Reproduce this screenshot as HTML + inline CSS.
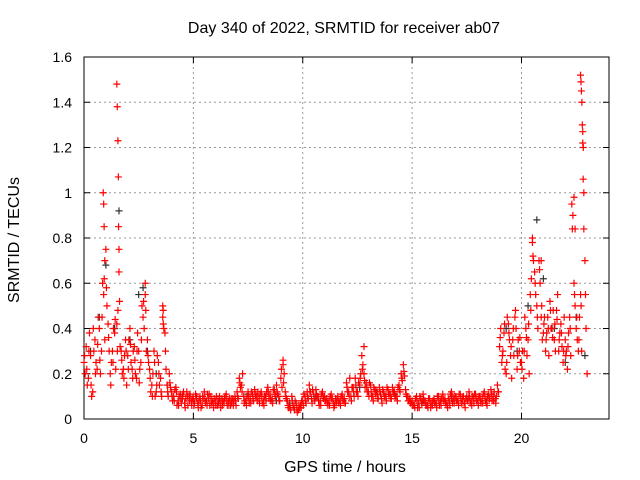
<!DOCTYPE html>
<html><head><meta charset="utf-8"><style>
html,body{margin:0;padding:0;background:#fff;}
svg{display:block;font-family:"Liberation Sans",sans-serif;}
</style></head><body>
<svg id="chart" width="640" height="480" viewBox="0 0 640 480">
<rect width="640" height="480" fill="#fff"/>
<g id="grid"></g>
<g id="axes"></g>
<g id="black"></g>
<g id="red"></g>
<text x="344" y="33" font-size="16" text-anchor="middle">Day 340 of 2022, SRMTID for receiver ab07</text>
<text x="345" y="472" font-size="16" text-anchor="middle">GPS time / hours</text>
<text x="19" y="240" font-size="16" text-anchor="middle" transform="rotate(-90 19 240)">SRMTID / TECUs</text>
</svg>
<script>
const xTicks=[0,5,10,15,20];
const yTicks=[0,0.2,0.4,0.6,0.8,1,1.2,1.4,1.6];
const yTickLabels=["0","0.2","0.4","0.6","0.8","1","1.2","1.4","1.6"];
const redValues=[.25,.32,.18,.28,.12,.35,.22,.40,.30,.55,
.75,.42,.20,.30,.38,.42,.65,.30,.22,.35,
.28,.40,.22,.32,.18,.30,.25,.45,.55,.35,
.22,.15,.30,.12,.25,.18,.45,.38,.15,.20,
.12,.10,.14,.08,.11,.09,.07,.12,.10,.08,
.09,.11,.07,.10,.06,.12,.08,.09,.10,.07,
.08,.06,.10,.09,.07,.11,.08,.06,.09,.10,
.12,.18,.15,.10,.08,.12,.09,.11,.13,.10,
.09,.12,.08,.10,.14,.11,.09,.13,.15,.10,
.18,.24,.12,.08,.06,.10,.05,.07,.04,.06,
.08,.10,.12,.15,.09,.11,.13,.10,.08,.12,
.10,.09,.08,.11,.07,.09,.10,.08,.11,.09,
.16,.12,.10,.14,.18,.12,.15,.28,.20,.16,
.12,.15,.10,.13,.11,.14,.09,.12,.10,.13,
.11,.14,.12,.10,.15,.20,.24,.13,.10,.09,
.08,.06,.10,.07,.09,.11,.08,.06,.09,.07,
.09,.07,.10,.08,.11,.09,.06,.08,.12,.09,
.10,.08,.11,.09,.07,.10,.12,.08,.09,.11,
.08,.10,.09,.12,.07,.11,.13,.10,.09,.15,
.32,.25,.38,.20,.42,.28,.35,.45,.22,.30,
.25,.18,.40,.35,.55,.78,.65,.50,.70,.45,
.38,.30,.45,.52,.40,.35,.48,.30,.42,.25,
.35,.22,.45,.95,.60,.40,.30,.55,1.27,.70,.20];
const red2Values=[.20,.15,.38,.10,.30,.25,.45,.20,.60,.35,
.50,.30,.25,.40,.22,.48,.32,.20,.28,.15,
.35,.25,.30,.20,.38,.22,.50,.40,.30,.25,
.12,.20,.10,.28,.15,.10,.40,.22,.10,.14,
.08,.13,.06,.10,.07,.12,.09,.06,.11,.09,
.07,.10,.08,.05,.09,.07,.11,.06,.08,.09,
.10,.07,.05,.08,.10,.06,.09,.07,.08,.06,
.09,.14,.20,.08,.10,.07,.12,.08,.10,.12,
.11,.07,.10,.12,.09,.08,.13,.10,.11,.08,
.14,.20,.09,.05,.04,.06,.08,.03,.05,.08,
.11,.07,.09,.12,.13,.08,.10,.06,.11,.09,
.08,.06,.10,.09,.06,.08,.07,.10,.08,.07,
.12,.18,.14,.10,.12,.16,.20,.24,.14,.12,
.16,.10,.14,.12,.09,.11,.13,.10,.14,.11,
.09,.12,.10,.14,.12,.17,.19,.10,.08,.07,
.06,.09,.05,.10,.07,.08,.06,.09,.05,.08,
.07,.10,.06,.09,.08,.07,.09,.11,.07,.10,
.08,.11,.07,.10,.09,.08,.07,.10,.11,.08,
.10,.07,.11,.08,.10,.09,.08,.12,.10,.12,
.40,.30,.22,.45,.35,.18,.28,.40,.35,.25,
.30,.45,.28,.20,.62,.70,.55,.40,.60,.35,
.45,.38,.28,.40,.48,.30,.55,.38,.32,.45,
.30,.38,.28,.90,.50,.35,.45,.30,1.0,.40];
const red3Values=[.28,.22,.30,.15,.40,.20,.33,.26,.45,.62,
.58,.36,.15,.25,.44,.30,.52,.26,.18,.30,
.22,.33,.18,.26,.30,.16,.35,.52,.48,.28,
.18,.10,.25,.15,.20,.12,.42,.30,.12,.16,
.10,.08,.12,.06,.09,.11,.05,.10,.08,.06,
.06,.09,.05,.08,.10,.09,.06,.11,.07,.05,
.06,.09,.07,.06,.09,.08,.06,.09,.06,.08,
.10,.16,.12,.07,.06,.10,.07,.09,.11,.08,
.07,.10,.06,.08,.12,.09,.07,.11,.12,.08,
.22,.16,.10,.06,.05,.08,.04,.05,.06,.05,
.06,.08,.10,.12,.07,.09,.11,.08,.06,.10,
.08,.07,.06,.09,.05,.07,.08,.06,.09,.07,
.14,.10,.08,.12,.15,.10,.18,.22,.17,.14,
.10,.12,.08,.11,.09,.12,.07,.10,.08,.11,
.09,.12,.10,.08,.13,.18,.21,.11,.08,.07,
.06,.05,.08,.05,.07,.09,.06,.05,.07,.06,
.07,.05,.08,.06,.09,.07,.05,.06,.10,.07,
.08,.06,.09,.07,.05,.08,.10,.06,.07,.09,
.06,.08,.07,.10,.06,.09,.11,.08,.07,.12,
.36,.28,.42,.25,.38,.32,.40,.48,.28,.36,
.22,.30,.36,.42,.48,.72,.60,.45,.66,.50,
.42,.35,.40,.48,.36,.42,.44,.35,.38,.30,
.28,.32,.40,.84,.55,.45,.35,.50,1.2,.55];
const redExtraTimes=[0.88,0.9,0.92,0.95,1.5,1.52,1.55,1.57,1.58,1.6,2.8,3.6,3.62,9.1,12.8,20.5,20.9,22.7,22.72,22.74,22.76,22.78,22.8,22.82,22.85,22.4,22.45];
const redExtraValues=[1.0,0.95,0.85,0.7,1.48,1.38,1.23,1.07,0.85,0.75,0.6,0.5,0.48,0.26,0.32,0.8,0.7,1.52,1.49,1.45,1.4,1.3,1.22,1.06,0.84,0.98,0.84];
const blackTimes=[0.3,0.7,1.0,1.4,1.6,2.1,2.5,2.7,2.9,3.3,3.8,4.5,6.2,7.5,8.8,9.4,10.6,11.5,12.6,13.4,14.2,15.5,16.8,17.6,18.4,19.3,19.8,20.3,20.7,21.0,21.5,22.0,22.5,22.9];
const blackValues=[.30,.45,.68,.40,.92,.35,.55,.58,.30,.20,.15,.10,.09,.11,.08,.07,.10,.09,.14,.12,.11,.08,.09,.10,.08,.40,.30,.50,.88,.62,.40,.25,.45,.28];

const X=t=>84+t*(525/24), Y=v=>419-v*226.25;
const NS="http://www.w3.org/2000/svg";
function mk(tag,attrs,parent){const e=document.createElementNS(NS,tag);for(const k in attrs)e.setAttribute(k,attrs[k]);parent.appendChild(e);return e;}
const grid=document.getElementById('grid'),axes=document.getElementById('axes');
xTicks.forEach(t=>{
 if(t>0){const l=mk('line',{x1:X(t),x2:X(t),y1:57,y2:419,stroke:'#999','stroke-dasharray':'2,3','stroke-width':1},grid);
 
 }
 const tk=mk('line',{x1:X(t),x2:X(t),y1:419,y2:413,stroke:'#000'},axes);
 
 
 const tk2=mk('line',{x1:X(t),x2:X(t),y1:57,y2:63,stroke:'#000'},axes);
 
 
 const tx=mk('text',{x:X(t),y:443,'font-size':14,'text-anchor':'middle'},axes);tx.textContent=String(t);
 
 
});
yTicks.forEach((v,i)=>{
 if(v>0&&v<1.6){const l=mk('line',{x1:84,x2:609,y1:Y(v),y2:Y(v),stroke:'#999','stroke-dasharray':'2,3','stroke-width':1},grid);
 
 }
 const tk=mk('line',{x1:84,x2:90,y1:Y(v),y2:Y(v),stroke:'#000'},axes);
 
 
 const tk2=mk('line',{x1:603,x2:609,y1:Y(v),y2:Y(v),stroke:'#000'},axes);
 
 
 const tx=mk('text',{x:72,y:Y(v)+5,'font-size':14,'text-anchor':'end'},axes);tx.textContent=yTickLabels[i];
 
 
});
const frame=mk('rect',{x:84,y:57,width:525,height:362,fill:'none',stroke:'#000','stroke-width':1},axes);


function plus(g,t,v,c){const x=X(t),y=Y(v);
 const p=mk('path',{d:`M${x-3.5},${y}h7M${x},${y-3.5}v7`,stroke:c,'stroke-width':1.2,fill:'none'},g);
 
 }
const bg=document.getElementById('black'),rg=document.getElementById('red');
blackTimes.forEach((t,i)=>plus(bg,t,blackValues[i],'#333'));
redValues.forEach((v,i)=>plus(rg,i*0.1,v,'#f00'));
red2Values.forEach((v,i)=>plus(rg,i*0.1+0.05,v,'#f00'));
red3Values.forEach((v,i)=>plus(rg,i*0.1+0.025,v,'#f00'));
redExtraTimes.forEach((t,i)=>plus(rg,t,redExtraValues[i],'#f00'));
</script>
</body></html>
